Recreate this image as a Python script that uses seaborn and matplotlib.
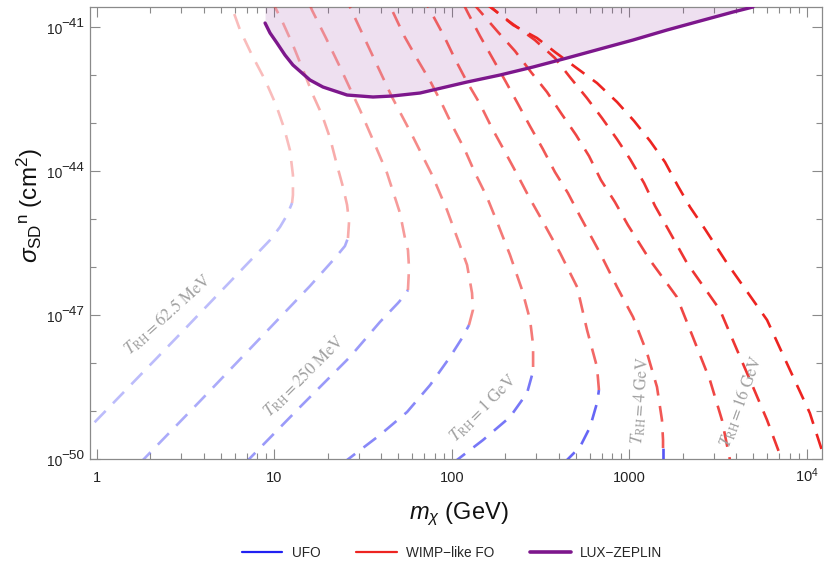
import numpy as np
import pandas as pd
import matplotlib
matplotlib.use("Agg")
import matplotlib.pyplot as plt
import matplotlib.transforms as mtransforms
import seaborn as sns
from matplotlib.lines import Line2D
from matplotlib.ticker import FixedLocator, FixedFormatter, NullFormatter

# ---------------- data (log10 of m [GeV] and log10 of sigma [cm^2]) ----------------
T_values = ["62.5 MeV", "125 MeV", "250 MeV", "500 MeV", "1 GeV",
            "2 GeV", "4 GeV", "8 GeV", "16 GeV", "32 GeV"]

# UFO (blue) branches, one list per reheating temperature (empty if off-plot)
ufo_log_m = [
    [-0.095, -0.038, 0.469, 0.976, 1.032, 1.072, 1.100],
    [0.243, 0.260, 0.582, 0.959, 1.201, 1.342, 1.398, 1.415],
    [0.830, 0.853, 1.145, 1.426, 1.595, 1.697, 1.736, 1.753],
    [1.387, 1.410, 1.595, 1.748, 1.878, 1.990, 2.058, 2.097],
    [2.007, 2.029, 2.176, 2.328, 2.424, 2.452, 2.458],
    [2.632, 2.649, 2.722, 2.779, 2.818, 2.829],
    [3.190, 3.190],
    [], [], [],
]
ufo_log_sigma = [
    [-49.688, -49.333, -47.396, -45.438, -45.167, -44.917, -44.667],
    [-50.104, -50.021, -48.792, -47.333, -46.396, -45.813, -45.563, -45.396],
    [-50.104, -50.021, -48.917, -47.875, -47.146, -46.75, -46.583, -46.479],
    [-50.104, -50.021, -49.5, -49.021, -48.458, -47.875, -47.479, -47.208],
    [-50.104, -50.021, -49.604, -49.125, -48.625, -48.25, -48.083],
    [-50.104, -50.021, -49.75, -49.333, -48.833, -48.563],
    [-50.104, -49.771],
    [], [], [],
]

# WIMP-like freeze-out (red) branches
fo_log_m = [
    [1.100, 1.105, 1.105, 1.088, 1.055, 1.010, 0.948, 0.874, 0.807, 0.750],
    [1.415, 1.421, 1.410, 1.387, 1.353, 1.314, 1.269, 1.218, 1.162, 1.105, 1.049, 1.004, 0.981],
    [1.753, 1.759, 1.753, 1.736, 1.708, 1.635, 1.556, 1.483, 1.370, 1.291, 1.212, 1.196],
    [2.097, 2.119, 2.114, 2.086, 2.035, 1.973, 1.889, 1.776, 1.663, 1.539, 1.455, 1.426, 1.415],
    [2.458, 2.458, 2.441, 2.396, 2.328, 2.255, 2.198, 2.131, 2.074, 2.007, 1.945, 1.878,
     1.805, 1.732, 1.663, 1.641],
    [2.829, 2.818, 2.762, 2.706, 2.610, 2.508, 2.435, 2.367, 2.294, 2.226, 2.159, 2.086,
     2.018, 1.956, 1.883, 1.855],
    [3.190, 3.190, 3.184, 3.156, 3.100, 3.021, 2.931, 2.835, 2.722, 2.654, 2.581, 2.513,
     2.440, 2.373, 2.305, 2.232, 2.159, 2.091, 2.063],
    [2.119, 2.148, 2.260, 2.356, 2.446, 2.536, 2.615, 2.700, 2.773, 2.840, 2.919, 2.992,
     3.116, 3.268, 3.358, 3.454, 3.522, 3.567, 3.573],
    [2.187, 2.328, 2.468, 2.581, 2.665, 2.761, 2.846, 2.930, 3.004, 3.083, 3.145, 3.218,
     3.325, 3.511, 3.607, 3.697, 3.776, 3.860, 3.872],
    [2.193, 2.226, 2.345, 2.480, 2.581, 2.688, 2.818, 2.931, 3.027, 3.117, 3.201, 3.274,
     3.342, 3.426, 3.550, 3.776, 3.887, 4.017, 4.090, 4.107],
]
fo_log_sigma = [
    [-44.667, -44.5, -44.083, -43.563, -43.104, -42.625, -42.104, -41.583, -41.063, -40.479],
    [-45.396, -45.063, -44.708, -44.333, -43.875, -43.313, -42.833, -42.417, -41.896, -41.375,
     -40.917, -40.583, -40.438],
    [-46.479, -46.021, -45.646, -45.396, -44.875, -44.042, -43.354, -42.729, -41.833, -41.229,
     -40.646, -40.5],
    [-47.208, -46.896, -46.542, -45.958, -45.438, -44.813, -44.083, -43.25, -42.458, -41.479,
     -40.813, -40.583, -40.479],
    [-48.083, -47.625, -47.104, -46.479, -45.75, -45.063, -44.542, -44.042, -43.563, -43.083,
     -42.604, -42.125, -41.667, -41.188, -40.646, -40.5],
    [-48.563, -48.083, -47.313, -46.417, -45.708, -45.021, -44.542, -44.063, -43.563, -43.104,
     -42.604, -42.146, -41.667, -41.188, -40.688, -40.5],
    [-49.771, -49.604, -49.188, -48.5, -47.792, -47.042, -46.417, -45.708, -44.938, -44.458,
     -44.021, -43.542, -43.063, -42.604, -42.146, -41.667, -41.188, -40.708, -40.5],
    [-40.5, -40.625, -41.104, -41.5, -41.938, -42.354, -42.792, -43.25, -43.688, -44.188,
     -44.646, -45.125, -45.854, -46.625, -47.458, -48.354, -49.188, -50.021, -50.146],
    [-40.5, -40.896, -41.271, -41.646, -42.042, -42.479, -42.896, -43.333, -43.75, -44.25,
     -44.729, -45.208, -45.917, -46.896, -47.729, -48.5, -49.188, -50.021, -50.146],
    [-40.5, -40.604, -40.958, -41.229, -41.521, -41.813, -42.167, -42.563, -42.958, -43.375,
     -43.813, -44.313, -44.75, -45.208, -45.917, -47.104, -48.0, -49.042, -49.875, -50.063],
]

# LUX-ZEPLIN limit
lux_log_m = [0.948, 0.976, 1.015, 1.060, 1.105, 1.201, 1.274, 1.410, 1.556, 1.663, 1.821,
             1.990, 2.086, 2.272, 2.458, 2.649, 2.835, 3.021, 3.212, 3.398, 3.584, 3.697]
lux_log_sigma = [-40.917, -41.125, -41.333, -41.583, -41.792, -42.104, -42.25, -42.417,
                 -42.458, -42.438, -42.375, -42.229, -42.146, -42.0, -41.833, -41.646,
                 -41.458, -41.271, -41.063, -40.875, -40.688, -40.583]

# curve annotations
label_T = ["62.5 MeV", "250 MeV", "1 GeV", "4 GeV", "16 GeV"]
label_m = [2.52, 14.7, 150.0, 1164.0, 4260.0]
label_log_sigma = [-47.0, -48.27, -48.94, -48.79, -48.81]
label_rotation = [42, 45, 45, 86, 70]

x_ticks = [1, 10, 100, 1000, 10000]
x_tick_labels = ["1", "10", "100", "1000", r"$10^{4}$"]
y_ticks_exp = [-50, -47, -44, -41]

# ---------------- style ----------------
sns.set_theme(style="ticks")
plt.rcParams["font.family"] = ["Liberation Sans", "DejaVu Sans"]
plt.rcParams["mathtext.fontset"] = "custom"
plt.rcParams["mathtext.rm"] = "Liberation Sans"
plt.rcParams["mathtext.it"] = "Liberation Sans:italic"
plt.rcParams["mathtext.bf"] = "Liberation Sans:bold"

BLUE = (0.13, 0.13, 0.95)
RED = (0.93, 0.14, 0.13)
PURPLE = (0.49, 0.09, 0.55)
FRAME = "#8a8a8a"
TICKTXT = "#222222"

fig = plt.figure(figsize=(8.24, 5.63), dpi=100)
ax = fig.add_axes([90 / 824, 1 - 459 / 563, 732 / 824, 452 / 563])
ax.set_xscale("log")
ax.set_yscale("log")

xmin, xmax = 10 ** (-0.0383), 10 ** 4.0856
ymin, ymax = 1e-50, 10 ** (-40.583)

# LUX-ZEPLIN excluded region
lm = 10 ** np.array(lux_log_m)
ls_ = 10 ** np.array(lux_log_sigma)
ax.fill_between(lm, ls_, 1e-39, color=PURPLE, alpha=0.13, lw=0, zorder=1)

n = len(T_values)
dash = (0, (6, 4))
for i in range(n):
    a = 0.30 + 0.70 * i / (n - 1)
    if len(ufo_log_m[i]) > 1:
        df = pd.DataFrame({"m": 10 ** np.array(ufo_log_m[i]),
                           "sigma": 10 ** np.array(ufo_log_sigma[i])})
        sns.lineplot(data=df, x="m", y="sigma", sort=False, estimator=None, ax=ax,
                     color=BLUE, alpha=a, linewidth=1.9, linestyle=dash, zorder=3)
    df = pd.DataFrame({"m": 10 ** np.array(fo_log_m[i]),
                       "sigma": 10 ** np.array(fo_log_sigma[i])})
    sns.lineplot(data=df, x="m", y="sigma", sort=False, estimator=None, ax=ax,
                 color=RED, alpha=a, linewidth=1.9, linestyle=dash, zorder=3)

dfl = pd.DataFrame({"m": lm, "sigma": ls_})
sns.lineplot(data=dfl, x="m", y="sigma", sort=False, estimator=None, ax=ax,
             color=PURPLE, linewidth=2.4, zorder=4)

for T, m, s, r in zip(label_T, label_m, label_log_sigma, label_rotation):
    ax.text(m, 10 ** s, r"$T_{\mathrm{RH}} = " + T.replace(" ", r"\ \mathrm{") + "}$",
            rotation=r, ha="center", va="center", color="#a0a0a0", fontsize=12,
            math_fontfamily="stix", rotation_mode="anchor", zorder=5)

ax.set_xlim(xmin, xmax)
ax.set_ylim(ymin, ymax)
ax.set_xlabel("")
ax.set_ylabel("")

# ticks
ax.xaxis.set_major_locator(FixedLocator(x_ticks))
ax.xaxis.set_major_formatter(FixedFormatter(x_tick_labels))
minor_x = [k * 10 ** d for d in range(-1, 5) for k in range(2, 10)]
ax.xaxis.set_minor_locator(FixedLocator(minor_x))
ax.xaxis.set_minor_formatter(NullFormatter())

ax.yaxis.set_major_locator(FixedLocator([10.0 ** e for e in y_ticks_exp]))
ax.yaxis.set_major_formatter(NullFormatter())
minor_y = [10.0 ** e for e in range(-50, -40) if e not in y_ticks_exp]
ax.yaxis.set_minor_locator(FixedLocator(minor_y))
ax.yaxis.set_minor_formatter(NullFormatter())

ax.tick_params(which="both", direction="in", top=True, right=True, color=FRAME,
               width=0.8, labelcolor=TICKTXT)
ax.tick_params(which="major", length=7)
ax.tick_params(which="minor", length=4)
ax.tick_params(axis="x", which="major", labelsize=10.5, pad=16.5)
ax.tick_params(axis="both", which="both", labeltop=False, labelright=False)
for t in ax.xaxis.get_major_ticks():
    t.label1.set_verticalalignment("baseline")
for sp in ax.spines.values():
    sp.set_color(FRAME)
    sp.set_linewidth(0.9)

# y tick labels drawn as "10" with a large exponent (Mathematica style)
ytrans = mtransforms.blended_transform_factory(ax.transAxes, ax.transData)
for e in y_ticks_exp:
    ax.annotate("\u2212%d" % abs(e), xy=(0, 10.0 ** e), xycoords=ytrans,
                xytext=(-6.0, 0), textcoords="offset pixels", ha="right", va="baseline",
                fontsize=9.7, color=TICKTXT)
    ax.annotate("10", xy=(0, 10.0 ** e), xycoords=ytrans,
                xytext=(-27.5, -7), textcoords="offset pixels", ha="right", va="baseline",
                fontsize=10, color=TICKTXT)

# axis labels
fig.text(459 / 824, 1 - 514 / 563, r"$m_{\chi}$ (GeV)", ha="center", va="center",
         fontsize=17, color="#111111")
fig.text(30 / 824, 1 - 205 / 563, r"$\sigma_{\mathrm{SD}}{}^{\mathrm{n}}$ (cm$^{2}$)",
         ha="center", va="center", rotation=90, fontsize=17.5, color="#111111")

# legend
handles = [Line2D([], [], color=BLUE, lw=1.6),
           Line2D([], [], color=RED, lw=1.6),
           Line2D([], [], color=PURPLE, lw=2.6)]
fig.legend(handles, ["UFO", "WIMP\u2212like FO", "LUX\u2212ZEPLIN"], loc="center",
           bbox_to_anchor=(452 / 824, 1 - 553 / 563), ncol=3, frameon=False,
           fontsize=9.8, handlelength=3.0, handletextpad=0.7, columnspacing=2.6)

fig.savefig("out.png", dpi=100)
